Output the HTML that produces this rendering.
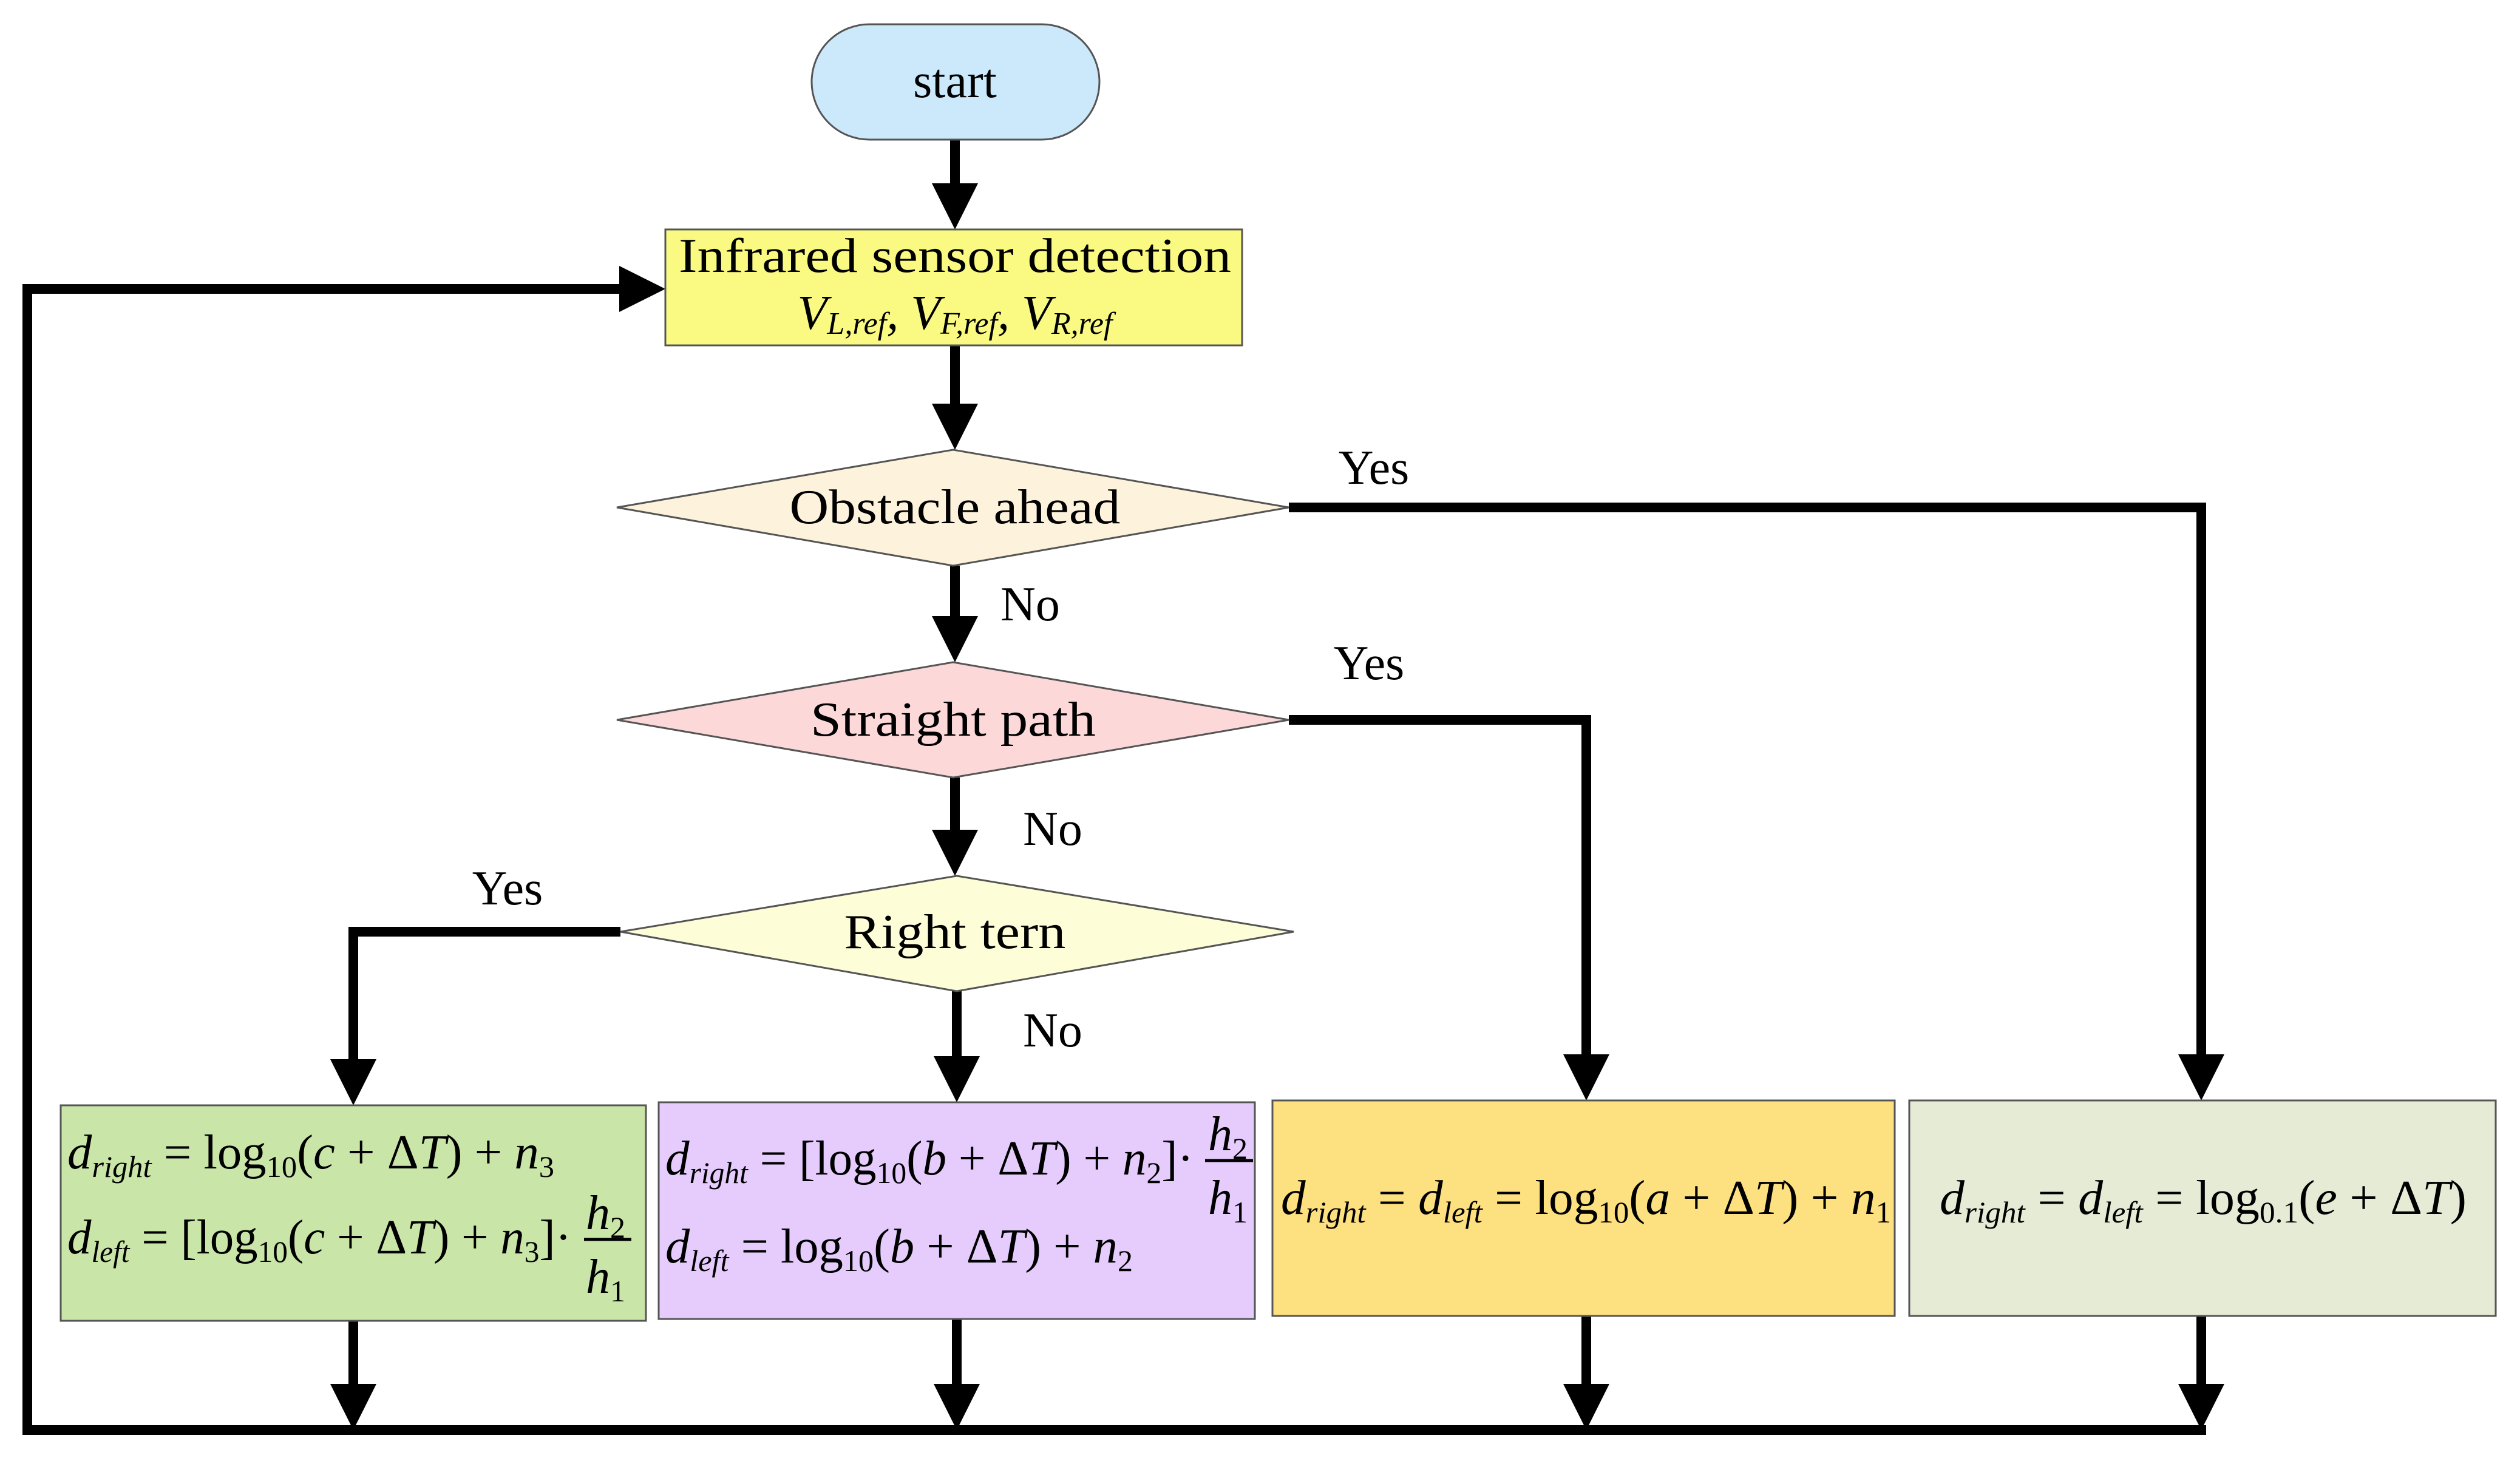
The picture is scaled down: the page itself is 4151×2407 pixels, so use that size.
<!DOCTYPE html>
<html><head><meta charset="utf-8"><style>html,body{margin:0;padding:0;background:#fff}svg{display:block}</style></head>
<body>
<svg xmlns="http://www.w3.org/2000/svg" width="4151" height="2407" viewBox="0 0 4151 2407">
<defs>
<marker id="ah" markerUnits="userSpaceOnUse" markerWidth="80" markerHeight="80" refX="16" refY="38" orient="auto">
<path d="M0,0 L76,38 L0,76 Z" fill="#000"/>
</marker>
</defs>
<g fill="none" stroke="#000" stroke-width="16">
<line x1="1573" y1="230" x2="1573" y2="318" marker-end="url(#ah)"/>
<line x1="1573" y1="569" x2="1573" y2="681" marker-end="url(#ah)"/>
<line x1="1573" y1="932" x2="1573" y2="1031" marker-end="url(#ah)"/>
<line x1="1573" y1="1281" x2="1573" y2="1383" marker-end="url(#ah)"/>
<line x1="1576" y1="1633" x2="1576" y2="1756" marker-end="url(#ah)"/>
<polyline points="2123,836 3626,836 3626,1753" marker-end="url(#ah)"/>
<polyline points="2123,1186 2613,1186 2613,1753" marker-end="url(#ah)"/>
<polyline points="1022,1535 582,1535 582,1761" marker-end="url(#ah)"/>
<line x1="582" y1="2176" x2="582" y2="2296" marker-end="url(#ah)"/>
<line x1="1576" y1="2173" x2="1576" y2="2296" marker-end="url(#ah)"/>
<line x1="2613" y1="2168" x2="2613" y2="2296" marker-end="url(#ah)"/>
<line x1="3626" y1="2168" x2="3626" y2="2296" marker-end="url(#ah)"/>
<polyline points="3634,2356 45,2356 45,476 1036,476" marker-end="url(#ah)"/>
</g>
<g stroke="#555" stroke-width="3">
<rect x="1337" y="40" width="474" height="190" rx="95" fill="#cce9fb"/>
<rect x="1096" y="378" width="950" height="191" fill="#fafa82"/>
<polygon points="1016,836 1570,741 2123,836 1570,932" fill="#fdf3dc"/>
<polygon points="1016,1186 1570,1091 2123,1186 1570,1281" fill="#fcd8d9"/>
<polygon points="1022,1535 1576,1443 2131,1535 1576,1633" fill="#fdfdd8"/>
<rect x="100" y="1821" width="964" height="355" fill="#c9e5a8"/>
<rect x="1085" y="1816" width="982" height="357" fill="#e5ccfc"/>
<rect x="2096" y="1813" width="1025" height="355" fill="#fde07f"/>
<rect x="3145" y="1813" width="966" height="355" fill="#e6ebd6"/>
</g>
<g font-family="Liberation Serif, serif" font-size="80" fill="#000" text-anchor="middle">
<text x="1573" y="160">start</text>
<text x="1573" y="448" textLength="910" lengthAdjust="spacingAndGlyphs">Infrared sensor detection</text>
<text x="1573" y="542" font-style="italic">V<tspan font-size="52" dy="8">L,ref</tspan><tspan dy="-8">, V</tspan><tspan font-size="52" dy="8">F,ref</tspan><tspan dy="-8">, V</tspan><tspan font-size="52" dy="8">R,ref</tspan></text>
<text x="1573" y="862" textLength="545" lengthAdjust="spacingAndGlyphs">Obstacle ahead</text>
<text x="1570" y="1212" textLength="470" lengthAdjust="spacingAndGlyphs">Straight path</text>
<text x="1573" y="1562" textLength="365" lengthAdjust="spacingAndGlyphs">Right tern</text>
<text x="2263" y="797">Yes</text>
<text x="2255" y="1119">Yes</text>
<text x="836" y="1490">Yes</text>
<text x="1697" y="1022">No</text>
<text x="1734" y="1392">No</text>
<text x="1734" y="1724">No</text>
</g>
<g font-family="Liberation Serif, serif" font-size="80" fill="#000">
<text x="111" y="1925" textLength="802" lengthAdjust="spacingAndGlyphs"><tspan font-style="italic">d</tspan><tspan font-style="italic" font-size="50" dy="14">right</tspan><tspan dy="-14"> = log</tspan><tspan font-size="50" dy="14">10</tspan><tspan dy="-14">(</tspan><tspan font-style="italic">c</tspan> + Δ<tspan font-style="italic">T</tspan>) + <tspan font-style="italic">n</tspan><tspan font-size="50" dy="14">3</tspan></text>
<text x="111" y="2065" textLength="830" lengthAdjust="spacingAndGlyphs"><tspan font-style="italic">d</tspan><tspan font-style="italic" font-size="50" dy="14">left</tspan><tspan dy="-14"> = [log</tspan><tspan font-size="50" dy="14">10</tspan><tspan dy="-14">(</tspan><tspan font-style="italic">c</tspan> + Δ<tspan font-style="italic">T</tspan>) + <tspan font-style="italic">n</tspan><tspan font-size="50" dy="14">3</tspan><tspan dy="-14">]·</tspan></text>
<text x="965" y="2025" font-style="italic">h<tspan font-style="normal" font-size="50" dy="14">2</tspan></text>
<line x1="962" y1="2042" x2="1040" y2="2042" stroke="#000" stroke-width="5"/>
<text x="965" y="2130" font-style="italic">h<tspan font-style="normal" font-size="50" dy="14">1</tspan></text>

<text x="1096" y="1935" textLength="870" lengthAdjust="spacingAndGlyphs"><tspan font-style="italic">d</tspan><tspan font-style="italic" font-size="50" dy="14">right</tspan><tspan dy="-14"> = [log</tspan><tspan font-size="50" dy="14">10</tspan><tspan dy="-14">(</tspan><tspan font-style="italic">b</tspan> + Δ<tspan font-style="italic">T</tspan>) + <tspan font-style="italic">n</tspan><tspan font-size="50" dy="14">2</tspan><tspan dy="-14">]·</tspan></text>
<text x="1990" y="1895" font-style="italic">h<tspan font-style="normal" font-size="50" dy="14">2</tspan></text>
<line x1="1985" y1="1912" x2="2064" y2="1912" stroke="#000" stroke-width="5"/>
<text x="1990" y="2000" font-style="italic">h<tspan font-style="normal" font-size="50" dy="14">1</tspan></text>
<text x="1096" y="2080" textLength="770" lengthAdjust="spacingAndGlyphs"><tspan font-style="italic">d</tspan><tspan font-style="italic" font-size="50" dy="14">left</tspan><tspan dy="-14"> = log</tspan><tspan font-size="50" dy="14">10</tspan><tspan dy="-14">(</tspan><tspan font-style="italic">b</tspan> + Δ<tspan font-style="italic">T</tspan>) + <tspan font-style="italic">n</tspan><tspan font-size="50" dy="14">2</tspan></text>

<text x="2110" y="2000" textLength="1005" lengthAdjust="spacingAndGlyphs"><tspan font-style="italic">d</tspan><tspan font-style="italic" font-size="50" dy="14">right</tspan><tspan dy="-14"> = </tspan><tspan font-style="italic">d</tspan><tspan font-style="italic" font-size="50" dy="14">left</tspan><tspan dy="-14"> = log</tspan><tspan font-size="50" dy="14">10</tspan><tspan dy="-14">(</tspan><tspan font-style="italic">a</tspan> + Δ<tspan font-style="italic">T</tspan>) + <tspan font-style="italic">n</tspan><tspan font-size="50" dy="14">1</tspan></text>
<text x="3195" y="2000" textLength="868" lengthAdjust="spacingAndGlyphs"><tspan font-style="italic">d</tspan><tspan font-style="italic" font-size="50" dy="14">right</tspan><tspan dy="-14"> = </tspan><tspan font-style="italic">d</tspan><tspan font-style="italic" font-size="50" dy="14">left</tspan><tspan dy="-14"> = log</tspan><tspan font-size="50" dy="14">0.1</tspan><tspan dy="-14">(</tspan><tspan font-style="italic">e</tspan> + Δ<tspan font-style="italic">T</tspan>)</text>
</g>
</svg>
</body></html>
